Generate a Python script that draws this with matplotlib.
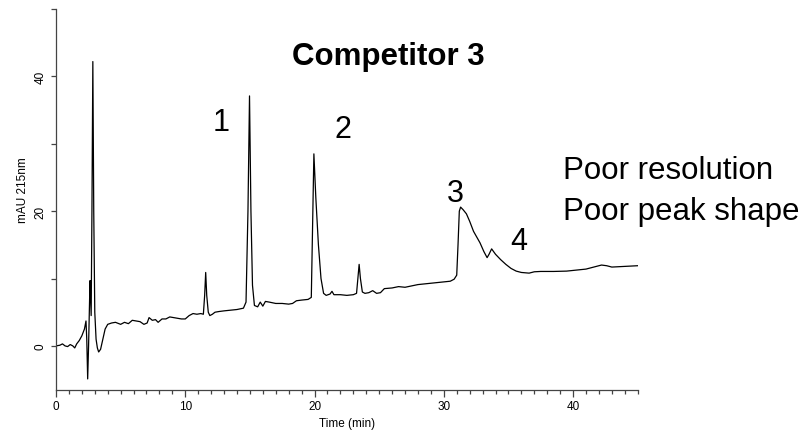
import matplotlib
matplotlib.use("Agg")
import matplotlib.pyplot as plt
from matplotlib.ticker import MultipleLocator

plt.rcParams['font.family'] = ['Liberation Sans', 'DejaVu Sans']

time_min = [
    0.0, 0.3, 0.5, 0.7, 0.9, 1.1, 1.3, 1.45, 1.6, 1.8, 2.0, 2.2, 2.32, 2.38, 2.45,
    2.52, 2.6, 2.64, 2.68, 2.72, 2.78, 2.85, 2.92, 3.0, 3.1, 3.2, 3.3, 3.45, 3.6,
    3.8, 4.0, 4.3, 4.6, 5.0, 5.3, 5.6, 5.9, 6.2, 6.5, 6.8, 7.05, 7.2, 7.45, 7.7,
    7.9, 8.2, 8.5, 8.8, 9.1, 9.4, 9.7, 10.0, 10.3, 10.6, 10.9, 11.2, 11.4, 11.5,
    11.58, 11.66, 11.78, 11.9, 12.1, 12.3, 12.6, 13.0, 13.5, 14.0, 14.5, 14.7,
    14.85, 14.97, 15.08, 15.2, 15.35, 15.6, 15.8, 16.0, 16.2, 16.5, 17.0, 17.5,
    18.0, 18.3, 18.6, 19.0, 19.5, 19.75, 19.85, 19.95, 20.1, 20.3, 20.5, 20.7,
    20.9, 21.2, 21.35, 21.5, 22.0, 22.5, 23.0, 23.25, 23.35, 23.45, 23.55, 23.7,
    23.9, 24.2, 24.5, 24.8, 25.1, 25.4, 26.0, 26.5, 27.0, 27.5, 28.0, 28.5, 29.0,
    29.5, 30.0, 30.5, 30.8, 31.0, 31.1, 31.2, 31.3, 31.5, 31.75, 32.0, 32.3, 32.8,
    33.1, 33.35, 33.5, 33.7, 34.0, 34.4, 34.8, 35.2, 35.6, 36.0, 36.6, 37.0, 37.5,
    38.5, 39.5, 40.0, 41.0, 41.8, 42.2, 42.6, 43.0, 44.0, 45.0,
]
mau_215nm = [
    0.0, 0.1, 0.3, 0.0, -0.1, 0.2, 0.0, -0.3, 0.3, 0.8, 1.5, 2.5, 3.7, 1.0, -4.9,
    0.0, 7.0, 9.7, 7.0, 4.5, 20.0, 42.2, 20.0, 5.0, 1.0, -0.3, -0.9, -0.5, 0.8,
    2.5, 3.2, 3.4, 3.5, 3.2, 3.5, 3.3, 3.8, 3.7, 3.6, 3.2, 3.4, 4.2, 3.8, 3.9,
    3.5, 4.0, 4.0, 4.3, 4.2, 4.1, 4.0, 4.0, 4.5, 4.8, 4.7, 4.8, 4.7, 7.5,
    10.9, 7.5, 5.0, 4.5, 4.7, 5.0, 5.1, 5.2, 5.3, 5.4, 5.6, 6.5,
    20.0, 37.1, 20.0, 9.0, 6.0, 5.8, 6.5, 5.9, 6.6, 6.5, 6.3, 6.3,
    6.2, 6.3, 6.7, 6.8, 6.9, 7.2, 18.0, 28.5, 22.0, 15.0, 10.0, 7.8,
    7.5, 7.7, 8.1, 7.6, 7.6, 7.5, 7.6, 7.8, 10.0, 12.1, 10.0, 8.0,
    7.8, 7.9, 8.2, 7.8, 7.9, 8.5, 8.6, 8.8, 8.7, 8.9, 9.1, 9.2, 9.3,
    9.4, 9.5, 9.6, 9.9, 10.5, 15.0, 20.0, 20.6, 20.2, 19.6, 18.5, 17.0, 15.3,
    14.0, 13.1, 13.6, 14.4, 13.6, 12.8, 12.1, 11.5, 11.1, 10.9, 10.8, 11.0, 11.05,
    11.05, 11.1, 11.2, 11.4, 11.8, 12.0, 11.9, 11.7, 11.8, 11.9,
]

peak_labels = ["1", "2", "3", "4"]
peak_label_px = [(220.7, 131), (343.3, 138.3), (455, 201.7), (518.3, 250)]
title_text = "Competitor 3"
notes = ["Poor resolution", "Poor peak shape"]

W, H = 806, 431
fig = plt.figure(figsize=(W / 100, H / 100), dpi=100)
ax = fig.add_axes([56 / W, 1 - 390.7 / H, (637.7 - 56) / W, (390.7 - 10) / H])

ax.plot(time_min, mau_215nm, color="black", lw=0.9)
ax.set_xlim(0, 45)
ax.set_ylim(-6.5, 50)

for s in ["top", "right"]:
    ax.spines[s].set_visible(False)
for s in ["left", "bottom"]:
    ax.spines[s].set_color("#444444")
    ax.spines[s].set_linewidth(0.9)

ax.xaxis.set_major_locator(MultipleLocator(10))
ax.xaxis.set_minor_locator(MultipleLocator(1))
ax.yaxis.set_major_locator(MultipleLocator(20))
ax.yaxis.set_minor_locator(MultipleLocator(10))
ax.tick_params(axis="x", which="major", length=5, width=0.9, labelsize=8.5, pad=2.5, color="#444444")
ax.tick_params(axis="x", which="minor", length=3, width=0.9, color="#444444")
ax.tick_params(axis="y", which="both", length=3.6, width=0.9, labelsize=8.5, pad=3, color="#444444")
for lab in ax.get_yticklabels():
    lab.set_rotation(90)
    lab.set_va("center")

fig.text(347 / W, 1 - 424 / H, "Time (min)", ha="center", va="center", fontsize=8.5)
fig.text(23 / W, 1 - 190 / H, "mAU 215nm", ha="center", va="center", rotation=90, fontsize=8.5)

fig.text(388.5 / W, 1 - 65 / H, title_text, ha="center", va="baseline",
         fontsize=22.5, fontweight="bold")
for lab, (px, py) in zip(peak_labels, peak_label_px):
    fig.text(px / W, 1 - py / H, lab, ha="center", va="baseline", fontsize=22)
fig.text(562.7 / W, 1 - 179.3 / H, notes[0], ha="left", va="baseline", fontsize=22.5)
fig.text(562.7 / W, 1 - 220 / H, notes[1], ha="left", va="baseline", fontsize=22.5)

fig.savefig("out.png", dpi=100)
